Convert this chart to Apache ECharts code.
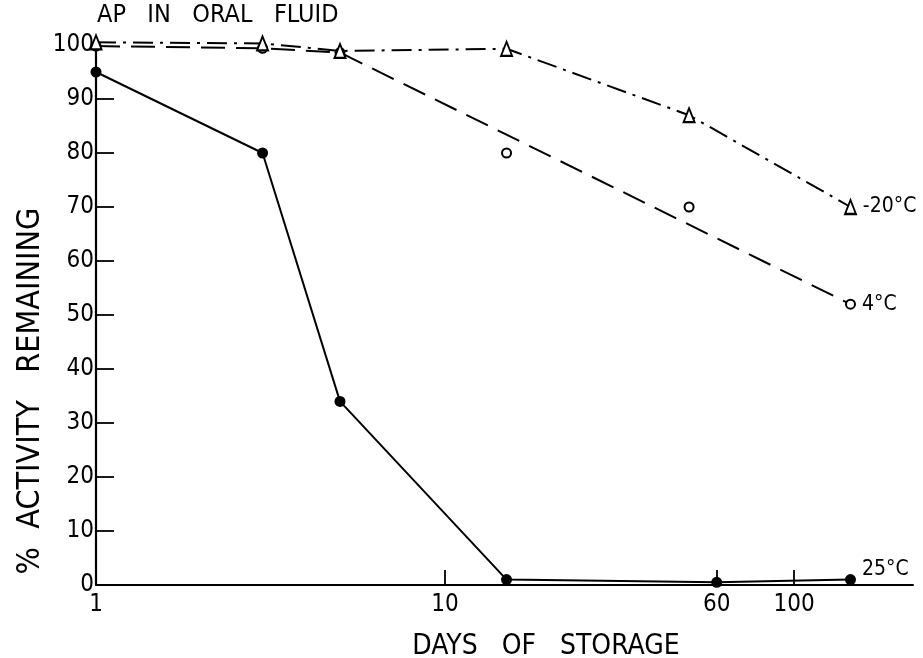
<!DOCTYPE html>
<html>
<head>
<meta charset="utf-8">
<script src="https://cdn.jsdelivr.net/npm/echarts@6/dist/echarts.min.js"></script>
<style>
html,body{margin:0;padding:0;background:#fff;}
#chart{width:923px;height:658px;}
</style>
</head>
<body>
<div id="chart"></div>
<script>
// ---- data ----
var days25 = [1, 3, 5, 15, 60, 145];
var act25 = [95, 80, 34, 1, 0.5, 1];

var days4 = [1, 3, 5, 15, 50, 145];
var act4 = [99.8, 99.4, 98.6, 80, 70, 52];
// points the drawn 4°C trend line passes through
var days4Line = [1, 3, 5, 145];
var act4Line = [99.8, 99.4, 98.6, 52];

var daysM20 = [1, 3, 5, 15, 50, 145];
var actM20 = [100.5, 100.3, 98.9, 99.3, 87, 70];

var xLabelValues = [1, 10, 60, 100];
var xTickValues = [10, 60, 100];
var yTickValues = [10, 20, 30, 40, 50, 60, 70, 80, 90];

var FONT = '"Liberation Sans Narrow", "DejaVu Sans Condensed", "Roboto Condensed", "Liberation Sans", sans-serif';

function pairs(xs, ys) { return xs.map(function (x, i) { return [x, ys[i]]; }); }
function withEndLabel(arr, text, offset) {
  return arr.map(function (p, i) {
    if (i !== arr.length - 1) return p;
    return { value: p, label: { show: true, position: 'right', distance: 6, formatter: text,
      offset: offset || [0, 0], color: '#000', fontSize: 21, fontFamily: FONT } };
  });
}

var chart = echarts.init(document.getElementById('chart'));
chart.setOption({
  backgroundColor: '#fff',
  animation: false,
  grid: { left: 96, right: 10, top: 45, bottom: 73, containLabel: false },
  xAxis: {
    type: 'log', logBase: 10, min: 1, max: 219,
    axisLine: { lineStyle: { color: '#000', width: 2 } },
    axisTick: { show: true, inside: true, length: 15, customValues: xTickValues,
      lineStyle: { color: '#000', width: 1.8 } },
    minorTick: { show: false },
    axisLabel: { customValues: xLabelValues, margin: 8, color: '#000', fontSize: 24, fontFamily: FONT },
    splitLine: { show: false }, minorSplitLine: { show: false }
  },
  yAxis: {
    type: 'value', min: 0, max: 100, interval: 10,
    axisLine: { show: true, lineStyle: { color: '#000', width: 2.2 } },
    axisTick: { show: true, inside: true, length: 18, customValues: yTickValues,
      lineStyle: { color: '#000', width: 1.8 } },
    axisLabel: { margin: 2, color: '#000', fontSize: 24, fontFamily: FONT },
    splitLine: { show: false }
  },
  graphic: [
    { type: 'text', left: 97, top: 3, style: { text: 'AP   IN   ORAL   FLUID', fill: '#000', font: '25px ' + FONT } },
    { type: 'text', x: 546, y: 647, style: { text: 'DAYS   OF   STORAGE', fill: '#000', font: '28px ' + FONT, textAlign: 'center', textVerticalAlign: 'middle' } },
    { type: 'text', x: 31, y: 391, rotation: Math.PI / 2, style: { text: '%  ACTIVITY   REMAINING', fill: '#000', font: '32px ' + FONT, textAlign: 'center', textVerticalAlign: 'middle' } }
  ],
  series: [
    {
      name: '25°C', type: 'line', clip: false,
      data: withEndLabel(pairs(days25, act25), '25°C', [0, -10]),
      symbol: 'circle', symbolSize: 11,
      lineStyle: { color: '#000', width: 2 },
      itemStyle: { color: '#000', borderColor: '#000', borderWidth: 0 }
    },
    {
      name: '4°C line', type: 'line', clip: false,
      data: pairs(days4Line, act4Line),
      symbol: 'none',
      lineStyle: { color: '#000', width: 2, type: [24, 11] }
    },
    {
      name: '4°C', type: 'line', clip: false,
      data: withEndLabel(pairs(days4, act4), '4°C'),
      symbol: 'circle', symbolSize: 9,
      lineStyle: { opacity: 0 },
      itemStyle: { color: '#fff', borderColor: '#000', borderWidth: 2 }
    },
    {
      name: '-20°C', type: 'line', clip: false,
      data: withEndLabel(pairs(daysM20, actM20), '-20°C'),
      symbol: 'triangle', symbolSize: [11, 14],
      lineStyle: { color: '#000', width: 2, type: [20, 7, 3, 7] },
      itemStyle: { color: '#fff', borderColor: '#000', borderWidth: 2 }
    }
  ]
});
</script>
</body>
</html>
